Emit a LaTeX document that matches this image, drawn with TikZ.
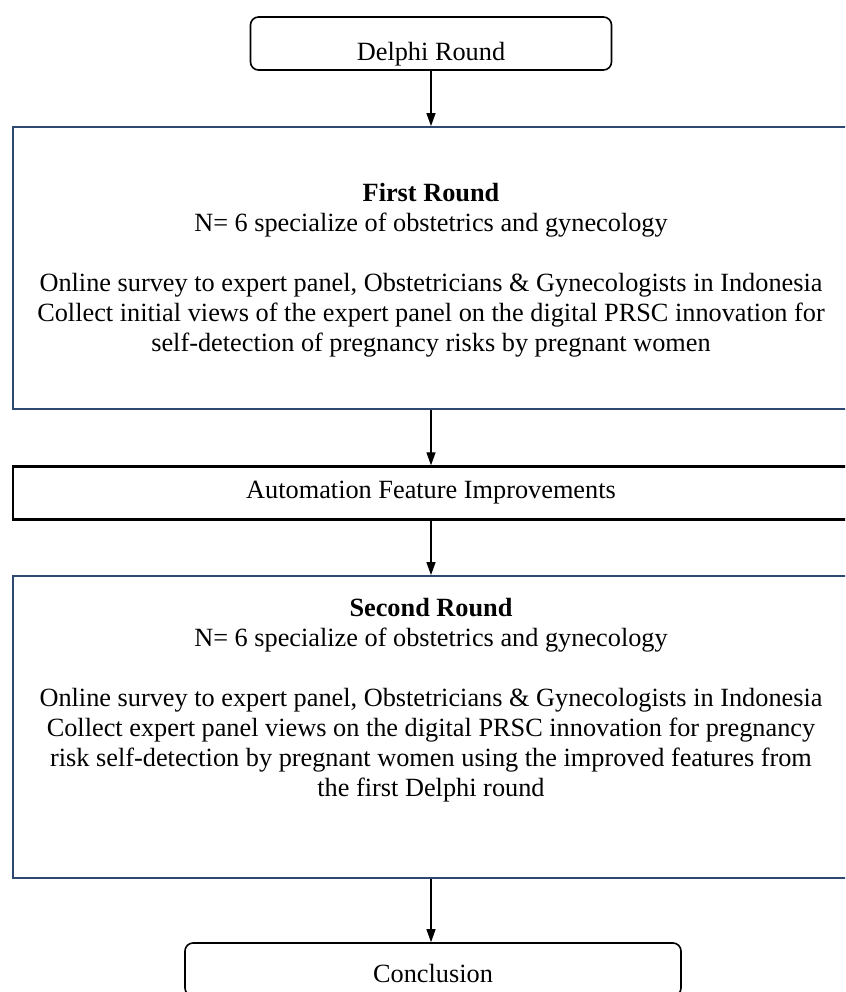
\documentclass[tikz,border=0pt]{standalone}
\usepackage{fontspec}
\setmainfont{Liberation Serif}
\usetikzlibrary{positioning,arrows.meta}

\definecolor{panelblue}{HTML}{2F4870}

\tikzset{
    roundbox/.style={draw=black, line width=1.6pt, rounded corners=8pt,
        inner sep=0pt, text depth=0pt, font=\fontsize{26.3}{30}\selectfont},
    panelbox/.style={draw=panelblue, line width=1.8pt, minimum width=836pt, inner sep=0pt},
    stagebox/.style={draw=black, line width=2.4pt, minimum width=836pt, minimum height=53pt,
        inner sep=0pt, font=\fontsize{26.3}{30}\selectfont},
    paneltext/.style={align=center, inner sep=0pt, font=\fontsize{26.3}{30}\selectfont},
    flow/.style={-{Triangle[length=13pt,width=9pt]}, line width=1.3pt}
}

\begin{document}
\begin{tikzpicture}[x=1pt,y=-1pt]
    \clip (0,0) rectangle (845,992);
    \fill[white] (0,0) rectangle (845,992);

    % Boxes
    \node[roundbox, minimum width=361pt, minimum height=53pt, text height=35pt] (delphi) at (431,43.5) {Delphi Round};
    \node[panelbox, minimum height=282pt] (first) at (431,268) {};
    \node[stagebox] (improve) at (431,493) {Automation Feature Improvements};
    \node[panelbox, minimum height=302pt] (second) at (431,727) {};
    \node[roundbox, minimum width=496pt, minimum height=53pt, text height=25pt] (concl) at (433,969.5) {Conclusion};

    % Panel texts
    \node[paneltext, below=57pt of first.north] (first-txt) {%
        \textbf{First Round}\\
        N= 6 specialize of obstetrics and gynecology\\[30pt]
        Online survey to expert panel, Obstetricians \& Gynecologists in Indonesia\\
        Collect initial views of the expert panel on the digital PRSC innovation for\\
        self-detection of pregnancy risks by pregnant women};
    \node[paneltext, below=23pt of second.north] (second-txt) {%
        \textbf{Second Round}\\
        N= 6 specialize of obstetrics and gynecology\\[30pt]
        Online survey to expert panel, Obstetricians \& Gynecologists in Indonesia\\
        Collect expert panel views on the digital PRSC innovation for pregnancy\\
        risk self-detection by pregnant women using the improved features from\\
        the first Delphi round};

    % Arrows
    \draw[flow] (delphi) -- (first);
    \draw[flow] (first) -- (improve);
    \draw[flow] (improve) -- (second);
    \draw[flow] (second) -- (concl.north -| second.south);
\end{tikzpicture}
\end{document}
